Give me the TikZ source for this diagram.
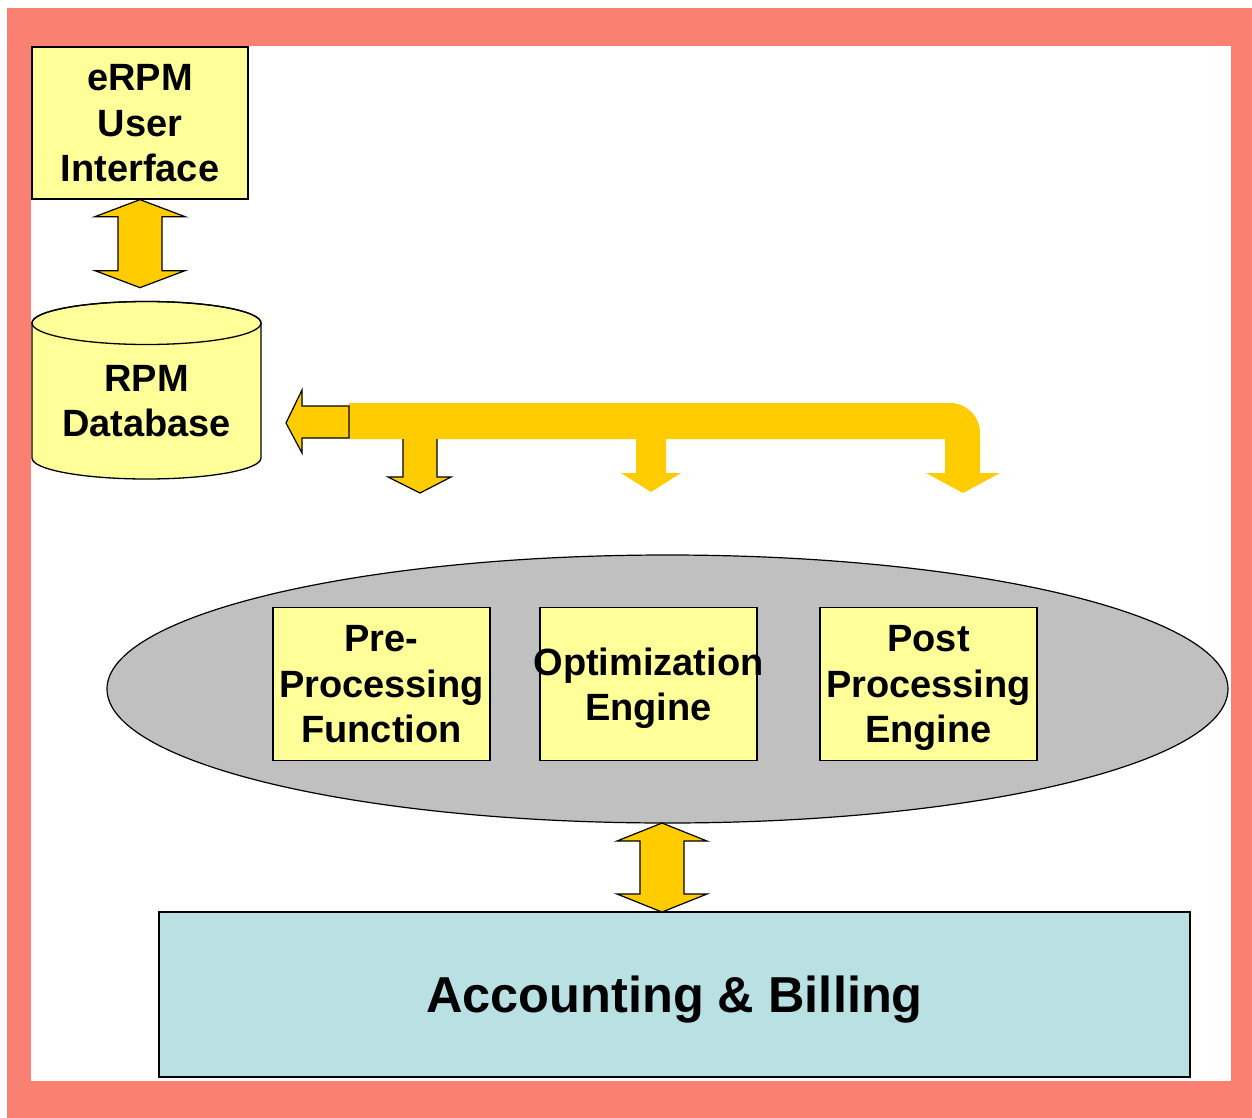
\documentclass[tikz,border=0pt]{standalone}
\usepackage{fontspec}
\setmainfont{Liberation Sans}
\usetikzlibrary{shapes.geometric, calc}

\definecolor{salmonframe}{HTML}{FA8072}
\definecolor{paleyellow}{HTML}{FFFF99}
\definecolor{arrowgold}{HTML}{FFCC00}
\definecolor{coregray}{HTML}{C0C0C0}
\definecolor{billblue}{HTML}{B9E0E3}

\tikzset{
    box/.style={draw, line width=1.3pt, fill=paleyellow, inner sep=0pt,
        minimum width=217pt, minimum height=153pt, align=center, text depth=0pt,
        font=\fontsize{38}{45.5}\selectfont\bfseries},
    blockarrow/.style={draw, line width=1.2pt, fill=arrowgold, line join=miter},
}

\begin{document}
\begin{tikzpicture}[x=1pt, y=1pt]
        \useasboundingbox (0,0) rectangle (1252,-1118);
        \fill[white] (0,0) rectangle (1252,-1118);

        % frame
        \fill[salmonframe] (7,-8) rectangle (1252,-1118);
        \fill[white] (31,-46) rectangle (1231,-1081);

        \node[box, minimum width=216pt, minimum height=152pt] (ui) at (140,-123) {eRPM\\User\\Interface};

        % database cylinder
        \filldraw[fill=paleyellow, line width=1.3pt] (32,-323) -- (32,-458)
            arc[start angle=180, end angle=360, x radius=114.5, y radius=21]
            -- (261,-323) arc[start angle=0, end angle=180, x radius=114.5, y radius=21.5] -- cycle;
        \draw[line width=1.3pt] (146.5,-323) ellipse[x radius=114.5, y radius=21.5];
        \node[align=center, font=\fontsize{38}{45.5}\selectfont\bfseries] (db) at (146.5,-401) {RPM\\Database};

        \filldraw[blockarrow] (ui.south) -- ++(45,-17) -- ++(-23,0) -- ++(0,-54) -- ++(23,0)
            -- ++(-45,-17) -- ++(-45,17) -- ++(23,0) -- ++(0,54) -- ++(-23,0) -- cycle;

        % bus
        \coordinate (busleft) at (349,-403);
        \fill[arrowgold] (busleft) -- (950,-403) arc[start angle=90, end angle=0, radius=30]
            -- (980,-473) -- (1000,-473) -- (963,-493) -- (926,-473) -- (945,-473) -- (945,-439)
            -- (666,-439) -- (666,-473) -- (681,-473) -- (651,-492) -- (621,-473) -- (636,-473)
            -- (636,-439) -- (349,-439) -- cycle;
        \filldraw[blockarrow] (349,-406) -- (302,-406) -- (302,-390) -- (286,-423) -- (302,-453)
            -- (302,-438) -- (349,-438) -- cycle;
        \filldraw[blockarrow] (403,-439) -- (403,-477) -- (388,-477) -- (420,-493) -- (451,-477)
            -- (437,-477) -- (437,-439);

        \node[ellipse, draw, line width=1.2pt, fill=coregray, minimum width=1121pt,
            minimum height=268pt, inner sep=0pt] (core) at (667.5,-689) {};

        \node[box] (pre) at (381.5,-684) {Pre-\\Processing\\Function};
        \node[box] (opt) at (648.5,-684) {\makebox[217pt]{Optimization}\\Engine};
        \node[box] (post) at (928.5,-684) {Post\\Processing\\Engine};

        \node[draw, line width=1.5pt, fill=billblue, minimum width=1031pt, minimum height=165pt,
            inner sep=0pt, text depth=0pt, font=\fontsize{50.5}{60}\selectfont\bfseries] (bill) at (674.5,-994.5) {Accounting \& Billing};

        \coordinate (coretip) at (662,-823);
        \filldraw[blockarrow] (coretip) -- ++(45,-18) -- ++(-23,0) -- ++(0,-53) -- ++(23,0)
            -- ++(-45,-18) -- ++(-45,18) -- ++(23,0) -- ++(0,53) -- ++(-23,0) -- cycle;
\end{tikzpicture}
\end{document}
